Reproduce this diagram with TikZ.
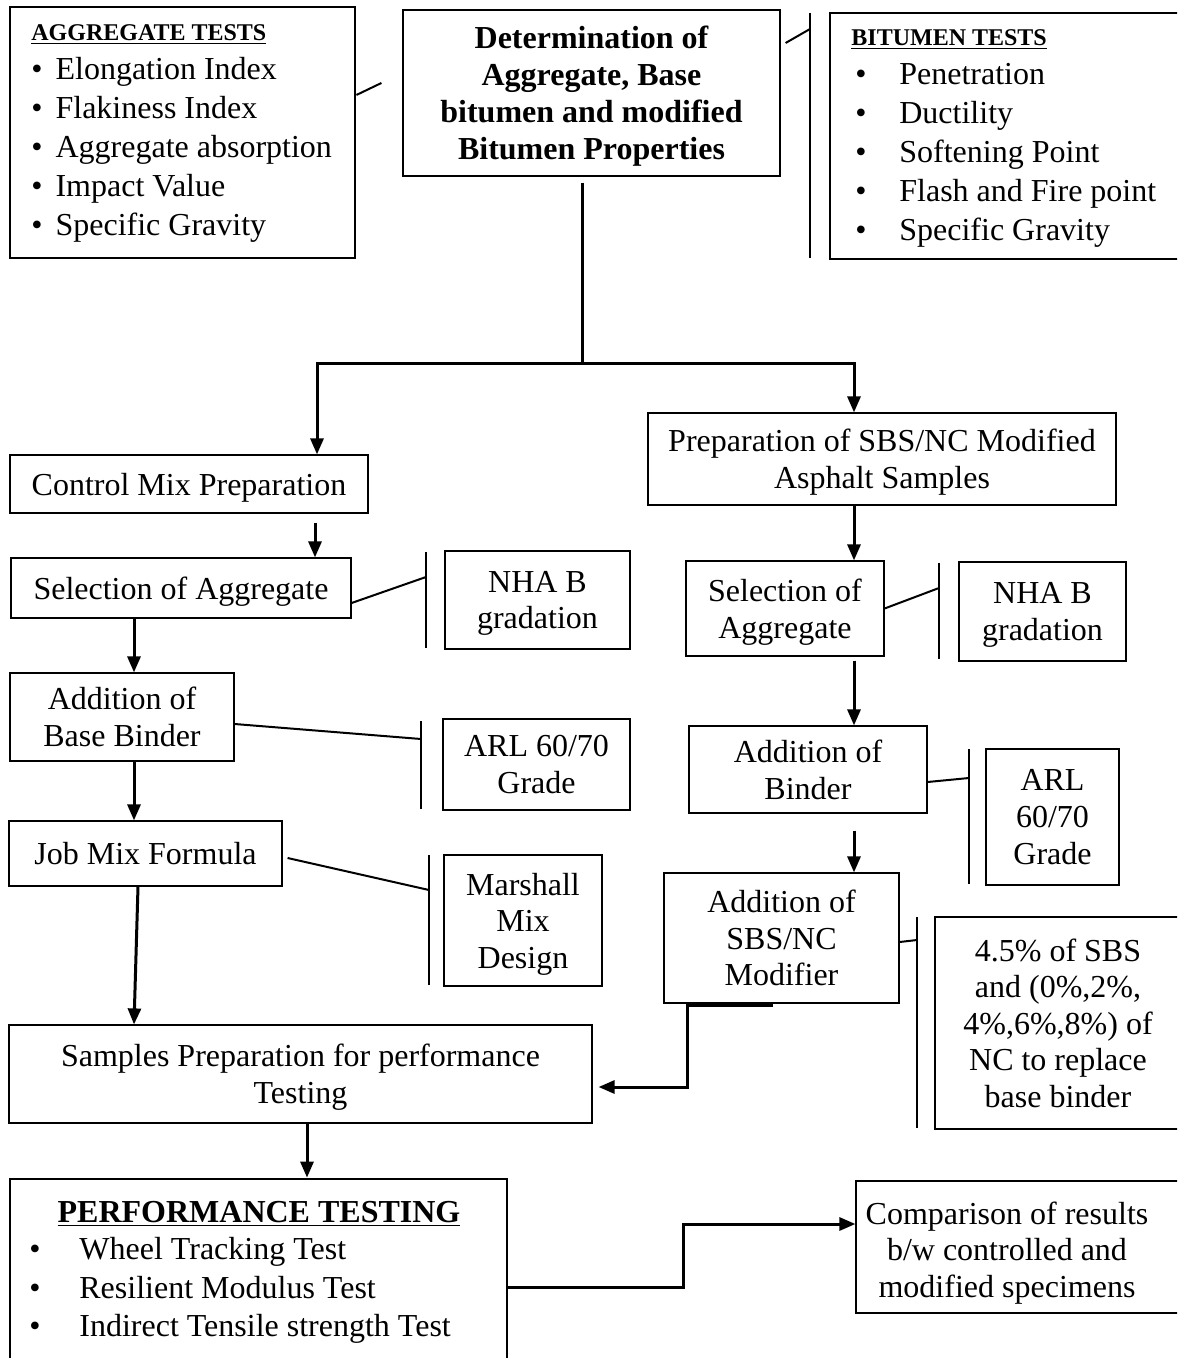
\documentclass[tikz,border=0pt]{standalone}
\usepackage{fontspec}
\setmainfont{Liberation Serif}
\usetikzlibrary{arrows.meta, positioning}

\newcommand{\ListBullet}[1]{\makebox[24pt][l]{\hspace{2pt}\textbullet}#1}

\tikzset{
    every node/.style = {font=\fontsize{16}{18.3}\selectfont},
    procbox/.style = {draw, line width=0.6pt, align=center, inner sep=0pt, text depth=0pt},
    testbox/.style = {draw, line width=1.4pt, align=center, inner sep=0pt, text depth=0pt},
    listtext/.style = {anchor=north west, align=left, inner sep=0pt,
        font=\fontsize{16}{19.5}\selectfont},
    flow/.style = {line width=1.5pt, -{Triangle[length=8pt, width=6.5pt]}},
    tie/.style = {line width=1pt},
    bar/.style = {line width=1.2pt},
}

\begin{document}
\begin{tikzpicture}[x=0.5pt, y=-0.5pt]

\useasboundingbox (0,0) rectangle (1177,1358);
\clip (0,0) rectangle (1177,1358);

% top row
\node[testbox, minimum width=172.5pt, minimum height=125.5pt] (aggr) at (182.5,132.5) {};
\node[listtext] (aggrlist) at (31,24)
    {{\fontsize{12}{14}\selectfont\bfseries\underline{AGGREGATE TESTS}}\\
     \textbullet\hspace{6.5pt}Elongation Index\\
     \textbullet\hspace{6.5pt}Flakiness Index\\
     \textbullet\hspace{6.5pt}Aggregate absorption\\
     \textbullet\hspace{6.5pt}Impact Value\\
     \textbullet\hspace{6.5pt}Specific Gravity};
\node[procbox, minimum width=188.5pt, minimum height=83pt,
      font=\fontsize{16}{18.5}\selectfont\bfseries] (determ) at (591.5,93)
    {Determination of\\Aggregate, Base\\bitumen and modified\\Bitumen Properties};
\node[testbox, minimum width=180pt, minimum height=123pt] (bitum) at (1010,136) {};
\node[listtext] (bitlist) at (851,29)
    {{\fontsize{12}{14}\selectfont\bfseries\underline{BITUMEN TESTS}}\\
     \ListBullet{Penetration}\\
     \ListBullet{Ductility}\\
     \ListBullet{Softening Point}\\
     \ListBullet{Flash and Fire point}\\
     \ListBullet{Specific Gravity}};

\coordinate (bitbar) at (810,29);
\draw[bar] (bitbar) ++(0,-16) -- ++(0,245);
\draw[tie] (determ.east) ++(5,-50) -- (bitbar);
\draw[tie] (aggr.east) ++(0,-37.5) -- ++(25,-12);

% control mix column
\node[procbox, minimum width=179pt, minimum height=29pt] (ctrl) at (189,484) {Control Mix Preparation};
\node[procbox, minimum width=170pt, minimum height=30pt] (selL) at (181,588) {Selection of Aggregate};
\node[testbox, minimum width=92.5pt, minimum height=49pt] (nhaL) at (537.5,600) {NHA B\\gradation};
\node[procbox, minimum width=112pt, minimum height=44pt] (addL) at (122,717) {Addition of\\Base Binder};
\node[testbox, minimum width=93.5pt, minimum height=45.5pt] (arlL) at (536.5,764.5) {ARL 60/70\\Grade};
\node[procbox, minimum width=136.5pt, minimum height=32.5pt] (jmf) at (145.5,853.5) {Job Mix Formula};
\node[testbox, minimum width=79pt, minimum height=65.5pt] (marsh) at (523,920.5) {Marshall\\Mix\\Design};
\node[procbox, minimum width=291.5pt, minimum height=49pt] (samp) at (300.5,1074)
    {Samples Preparation for performance\\Testing};

% modified column
\node[procbox, minimum width=234pt, minimum height=46pt] (prep) at (882,459)
    {Preparation of SBS/NC Modified\\Asphalt Samples};
\node[procbox, minimum width=99pt, minimum height=47.5pt] (selR) at (785,608.5) {Selection of\\Aggregate};
\node[testbox, minimum width=83.5pt, minimum height=49.5pt] (nhaR) at (1042.5,611.5) {NHA B\\gradation};
\node[procbox, minimum width=119pt, minimum height=43.5pt] (addR) at (808,769.5) {Addition of\\Binder};
\node[testbox, minimum width=66.5pt, minimum height=68pt] (arlR) at (1052.5,817) {ARL\\60/70\\Grade};
\node[procbox, minimum width=117.5pt, minimum height=65pt] (sbsnc) at (781.5,938) {Addition of\\SBS/NC\\Modifier};
\node[testbox, minimum width=123pt, minimum height=106pt] (mod) at (1058,1023)
    {4.5\% of SBS\\and (0\%,2\%,\\4\%,6\%,8\%) of\\NC to replace\\base binder};

% testing
\node[testbox, minimum width=248.5pt, minimum height=100.5pt] (perf) at (258.5,1279.5) {};
\node[inner sep=0pt, font=\fontsize{16}{18.3}\selectfont\bfseries] (perfhead) at (259,1214)
    {\underline{PERFORMANCE TESTING}};
\node[listtext, font=\fontsize{16}{19.25}\selectfont] (perflist) at (29,1237)
    {\makebox[25pt][l]{\textbullet}Wheel Tracking Test\\
     \makebox[25pt][l]{\textbullet}Resilient Modulus Test\\
     \makebox[25pt][l]{\textbullet}Indirect Tensile strength Test};
\node[procbox, minimum width=172pt, minimum height=66pt] (comp) at (1028,1247) {};
\node[align=center, inner sep=0pt] (comptxt) at (1007,1253)
    {Comparison of results\\b/w controlled and\\modified specimens};

% main split
\coordinate (split) at (582,363);
\coordinate (leftdrop) at (317,363);
\coordinate (rightdrop) at (854,363);
\coordinate (lcol) at (134,0);
\coordinate (bcol) at (307,0);
\draw[line width=1.5pt] (determ.south -| split) ++(0,6) -- (split);
\draw[flow] (split) -- (leftdrop) -- (leftdrop |- ctrl.north);
\draw[flow] (split) -- (rightdrop) -- (rightdrop |- prep.north);

% left arrows
\draw[flow] (ctrl.south -| leftdrop) ++(-2,9) -- ([xshift=-1pt]leftdrop |- selL.north);
\draw[flow] (selL.south -| lcol) -- (lcol |- addL.north);
\draw[flow] (addL.south -| lcol) -- (lcol |- jmf.north);
\draw[flow] ([xshift=2pt]jmf.south -| lcol) -- (lcol |- samp.north);
\draw[flow] (samp.south -| bcol) -- (bcol |- perf.north);

% right arrows
\draw[flow] (prep.south -| rightdrop) -- (rightdrop |- selR.north);
\draw[flow] (selR.south -| rightdrop) ++(0,4) -- (rightdrop |- addR.north);
\draw[flow] (addR.south -| rightdrop) ++(0,17) -- (rightdrop |- sbsnc.north);

% side references
\coordinate (nhaLbar) at (426,577);
\draw[bar] (nhaLbar) ++(0,-25) -- ++(0,96);
\draw[tie] (selL.east) ++(0,15) -- (nhaLbar);
\coordinate (arlLbar) at (421,739);
\draw[bar] (arlLbar) ++(0,-18) -- ++(0,88);
\draw[tie] (addL.east) ++(0,7) -- (arlLbar);
\coordinate (marshbar) at (429,890);
\draw[bar] (marshbar) ++(0,-35) -- ++(0,130);
\draw[tie] (jmf.east) ++(5,4.5) -- (marshbar);
\coordinate (nhaRbar) at (939,588);
\draw[bar] (nhaRbar) ++(0,-25) -- ++(0,96);
\draw[tie] (selR.east) -- (nhaRbar);
\coordinate (arlRbar) at (969,778);
\draw[bar] (arlRbar) ++(0,-29) -- ++(0,135);
\draw[tie] (addR.east) ++(0,12.5) -- (arlRbar);
\coordinate (modbar) at (917,940);
\draw[bar] (modbar) ++(0,-23) -- ++(0,211);
\draw[tie] (sbsnc.east) ++(0,4) -- (modbar);

% joins to samples and comparison
\coordinate (sbsbend) at (687,1087);
\draw[flow, shorten >=3pt] (sbsnc.south -| sbsbend) ++(86,2) -- ++(-86,0) -- (sbsbend) -- (sbsbend -| samp.east);
\coordinate (perfbend) at (683,1287);
\coordinate (compin) at (856,1224);
\draw[flow] (perf.east |- perfbend) -- (perfbend) -- (perfbend |- compin) -- (compin -| comp.west);

\end{tikzpicture}
\end{document}
